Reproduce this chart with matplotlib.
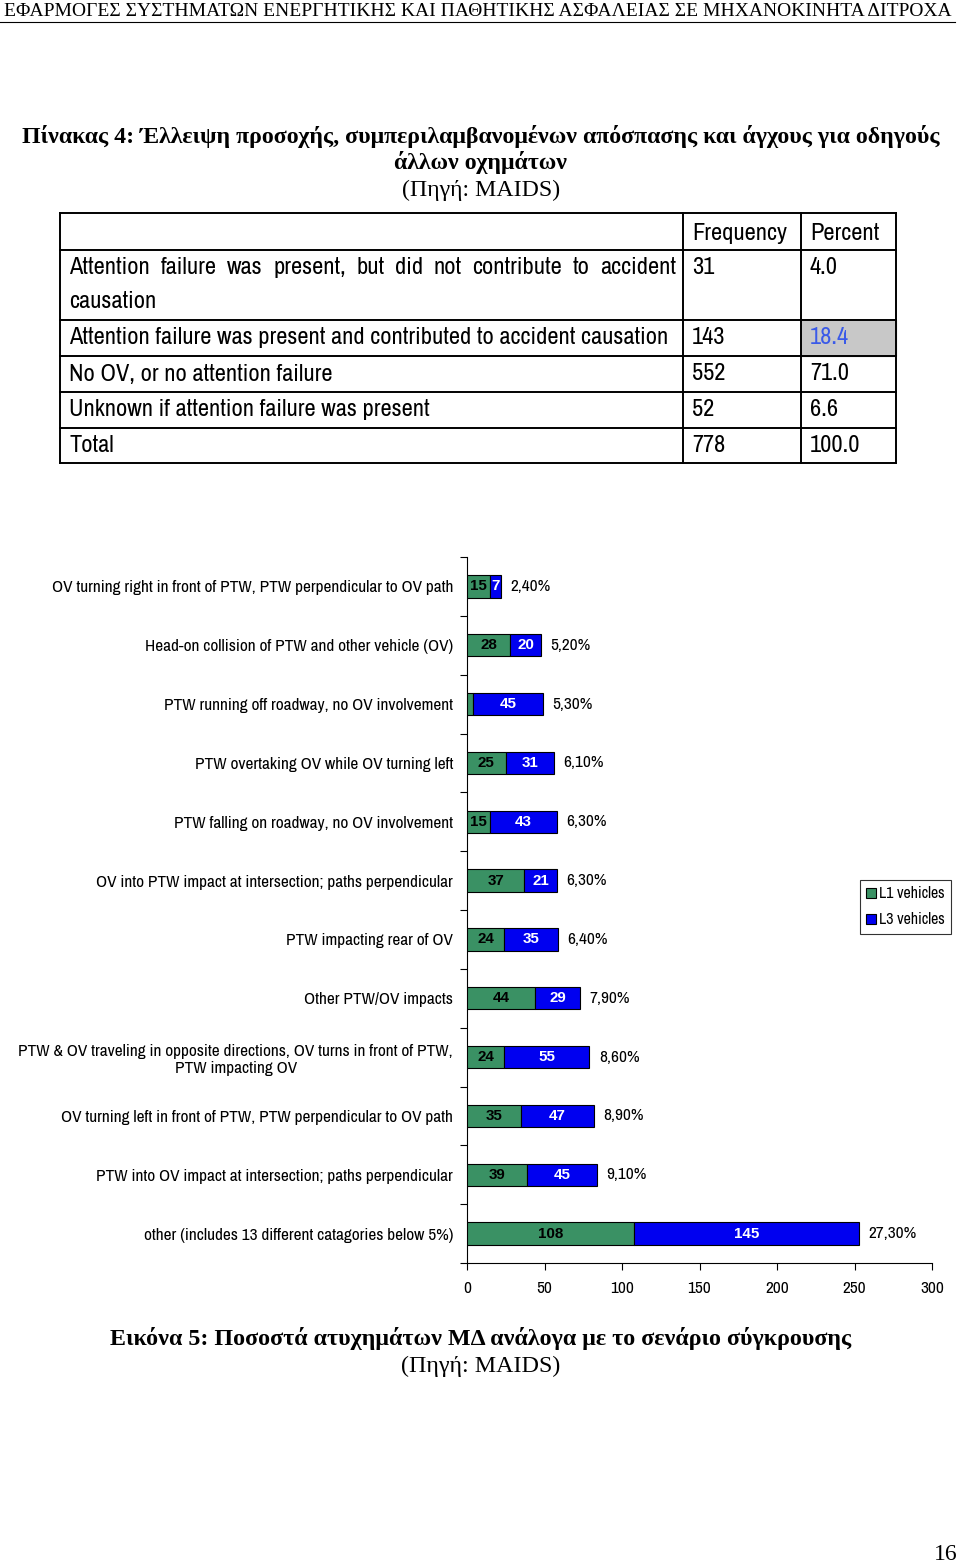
import matplotlib.pyplot as plt
from matplotlib import font_manager as fm
import numpy as np

# chart data (top to bottom as in the figure)
scenarios = [
    "OV turning right in front of PTW, PTW perpendicular to OV path",
    "Head-on collision of PTW and other vehicle (OV)",
    "PTW running off roadway, no OV involvement",
    "PTW overtaking OV while OV turning left",
    "PTW falling on roadway, no OV involvement",
    "OV into PTW impact at intersection; paths perpendicular",
    "PTW impacting rear of OV",
    "Other PTW/OV impacts",
    "PTW & OV traveling in opposite directions, OV turns in front of PTW,\nPTW impacting OV",
    "OV turning left in front of PTW, PTW perpendicular to OV path",
    "PTW into OV impact at intersection; paths perpendicular",
    "other (includes 13 different catagories below 5%)",
]
l1_vehicles = [15, 28, 4, 25, 15, 37, 24, 44, 24, 35, 39, 108]
l3_vehicles = [7, 20, 45, 31, 43, 21, 35, 29, 55, 47, 45, 145]
shares = ["2,40%", "5,20%", "5,30%", "6,10%", "6,30%", "6,30%", "6,40%",
          "7,90%", "8,60%", "8,90%", "9,10%", "27,30%"]
xticks = [0, 50, 100, 150, 200, 250, 300]

# table data
table_rows = [
    "Attention failure was present, but did not contribute to accident\ncausation",
    "Attention failure was present and contributed to accident causation",
    "No OV, or no attention failure",
    "Unknown if attention failure was present",
    "Total",
]
table_freq = ["31", "143", "552", "52", "778"]
table_pct = ["4.0", "18.4", "71.0", "6.6", "100.0"]

# pick a narrow sans font if one is installed
ttf = fm.fontManager.ttflist
installed = {f.name for f in ttf}
narrow = 'DejaVu Sans'
for cand in ['Liberation Sans Narrow', 'Arial Narrow', 'Archivo Narrow', 'PT Sans Narrow',
             'Roboto Condensed', 'Open Sans Condensed', 'Fira Sans Condensed',
             'IBM Plex Sans Condensed', 'Asap Condensed', 'Encode Sans Condensed']:
    if cand in installed:
        narrow = cand
        break


def is_bold(w):
    return w in ('bold', 'heavy', 'black', 'extra bold') or (isinstance(w, int) and w >= 600)


has_bold = any(f.name == narrow and is_bold(f.weight) for f in ttf)
NARROW = [narrow, 'DejaVu Sans']
BOLD = NARROW if has_bold else ['Liberation Sans', 'DejaVu Sans']
SERIF = ['Liberation Serif', 'DejaVu Serif']
GREEN = '#3a9164'
BLUE = '#0000f0'

fig = plt.figure(figsize=(9.6, 15.67), dpi=100)
renderer = fig.canvas.get_renderer()


def text_w(txt, family, size, **kw):
    t = fig.text(0, 0, txt, family=family, fontsize=size, **kw)
    w = t.get_window_extent(renderer).width
    t.remove()
    return w


def fit_size(txt, family, target_px, **kw):
    return 12 * target_px / text_w(txt, family, 12, **kw)


# page layer in pixel coordinates
bg = fig.add_axes([0, 0, 1, 1])
bg.set_xlim(0, 960)
bg.set_ylim(1567, 0)
bg.axis('off')

head = "ΕΦΑΡΜΟΓΕΣ ΣΥΣΤΗΜΑΤΩΝ ΕΝΕΡΓΗΤΙΚΗΣ ΚΑΙ ΠΑΘΗΤΙΚΗΣ ΑΣΦΑΛΕΙΑΣ ΣΕ ΜΗΧΑΝΟΚΙΝΗΤΑ ΔΙΤΡΟΧΑ"
bg.text(478, 11, head, family=SERIF, fontsize=min(14, fit_size(head, SERIF, 948)),
        ha='center', va='center')
bg.plot([0, 955], [22, 22], color='black', lw=0.8)

title1 = "Πίνακας 4: Έλλειψη προσοχής, συμπεριλαμβανομένων απόσπασης και άγχους για οδηγούς"
tsz = fit_size(title1, SERIF, 916, weight='bold')
bg.text(481, 136, title1, family=SERIF, fontsize=tsz, weight='bold', ha='center', va='center')
bg.text(481, 163, "άλλων οχημάτων", family=SERIF, fontsize=tsz, weight='bold',
        ha='center', va='center')
bg.text(481, 190, "(Πηγή: MAIDS)", family=SERIF, fontsize=tsz, ha='center', va='center')

# table
row_edges = [213, 250, 320, 356, 392, 428, 463]
col_edges = [60, 683, 801, 896]
bg.add_patch(plt.Rectangle((801, 320), 95, 36, color='#c8c8c8', zorder=0))
for yy in row_edges:
    bg.plot([col_edges[0], col_edges[-1]], [yy, yy], color='black', lw=1.4)
for xx in col_edges:
    bg.plot([xx, xx], [row_edges[0], row_edges[-1]], color='black', lw=1.4)

tfs = fit_size(table_rows[1], NARROW, 594)
bg.text(692, 233, "Frequency", family=NARROW, fontsize=tfs, va='center')
bg.text(810, 233, "Percent", family=NARROW, fontsize=tfs, va='center')
for i, (lab, fr, pc) in enumerate(zip(table_rows, table_freq, table_pct)):
    yc = row_edges[i + 1] + 18
    if '\n' in lab:
        # justified first line, as in the source document
        first, rest = lab.split('\n')
        words = first.split()
        widths = [text_w(w_, NARROW, tfs) for w_ in words]
        gap = (676 - 69 - sum(widths)) / (len(words) - 1)
        x = 69
        for w_, wd in zip(words, widths):
            bg.text(x, yc, w_, family=NARROW, fontsize=tfs, va='center')
            x += wd + gap
        bg.text(69, yc + 34, rest, family=NARROW, fontsize=tfs, va='center')
    else:
        bg.text(69, yc, lab, family=NARROW, fontsize=tfs, va='center')
    bg.text(692, yc, fr, family=NARROW, fontsize=tfs, va='center')
    bg.text(810, yc, pc, family=NARROW, fontsize=tfs, va='center',
            color='#3a5ae8' if pc == "18.4" else 'black')

cap = "Εικόνα 5: Ποσοστά ατυχημάτων ΜΔ ανάλογα με το σενάριο σύγκρουσης"
csz = fit_size(cap, SERIF, 736, weight='bold')
bg.text(481, 1339, cap, family=SERIF, fontsize=csz, weight='bold', ha='center', va='center')
bg.text(481, 1366, "(Πηγή: MAIDS)", family=SERIF, fontsize=csz, ha='center', va='center')
bg.text(946, 1554, "16", family=SERIF, fontsize=17, ha='center', va='center')

# bar chart
ax = fig.add_axes([467 / 960, 304 / 1567, 465 / 960, 706 / 1567])
y = np.arange(len(scenarios))
h = 0.38
ax.barh(y, l1_vehicles, height=h, color=GREEN, edgecolor='black', lw=0.8,
        label='L1 vehicles', zorder=3)
ax.barh(y, l3_vehicles, left=l1_vehicles, height=h, color=BLUE, edgecolor='black',
        lw=0.8, label='L3 vehicles', zorder=3)

lsz = fit_size(scenarios[0], NARROW, 401)
vsz = fit_size("108", BOLD, 25, weight='bold')
for i in range(len(scenarios)):
    a, b = l1_vehicles[i], l3_vehicles[i]
    ax.text(a / 2 + (1.5 if a < 8 else 0), i, str(a), ha='center', va='center',
            family=BOLD, fontsize=vsz, weight='bold', color='black',
            zorder=2 if a < 8 else 4)
    ax.text(a + b / 2, i, str(b), ha='center', va='center', family=BOLD,
            fontsize=vsz, weight='bold', color='white', zorder=4)
    ax.text(a + b + 6, i, shares[i], ha='left', va='center', family=NARROW,
            fontsize=lsz)

ax.set_xlim(0, 300)
ax.set_ylim(len(scenarios) - 0.5, -0.5)
ax.set_xticks(xticks)
ax.set_xticklabels([str(t) for t in xticks], family=NARROW, fontsize=lsz)
ax.set_yticks(y)
ax.set_yticklabels(scenarios, family=NARROW, fontsize=lsz)
for t in ax.get_yticklabels():
    t.set_multialignment('center')
ax.set_yticks(np.arange(len(scenarios) + 1) - 0.5, minor=True)
ax.tick_params(axis='y', which='major', length=0, pad=10)
ax.tick_params(axis='y', which='minor', length=5, direction='out', width=0.8)
ax.tick_params(axis='x', length=5, width=0.8, pad=8)
for s in ['top', 'right']:
    ax.spines[s].set_visible(False)
for s in ['left', 'bottom']:
    ax.spines[s].set_linewidth(0.8)

leg = fig.legend(loc='upper left', bbox_to_anchor=(860 / 960, 1 - 880 / 1567),
                 prop={'family': NARROW, 'size': lsz * 0.92}, frameon=True, fancybox=False,
                 handlelength=0.6, handleheight=0.6, handletextpad=0.2,
                 borderpad=0.4, labelspacing=0.7, borderaxespad=0)
leg.get_frame().set_edgecolor('black')
leg.get_frame().set_linewidth(0.8)

fig.savefig('out.png', dpi=100)
